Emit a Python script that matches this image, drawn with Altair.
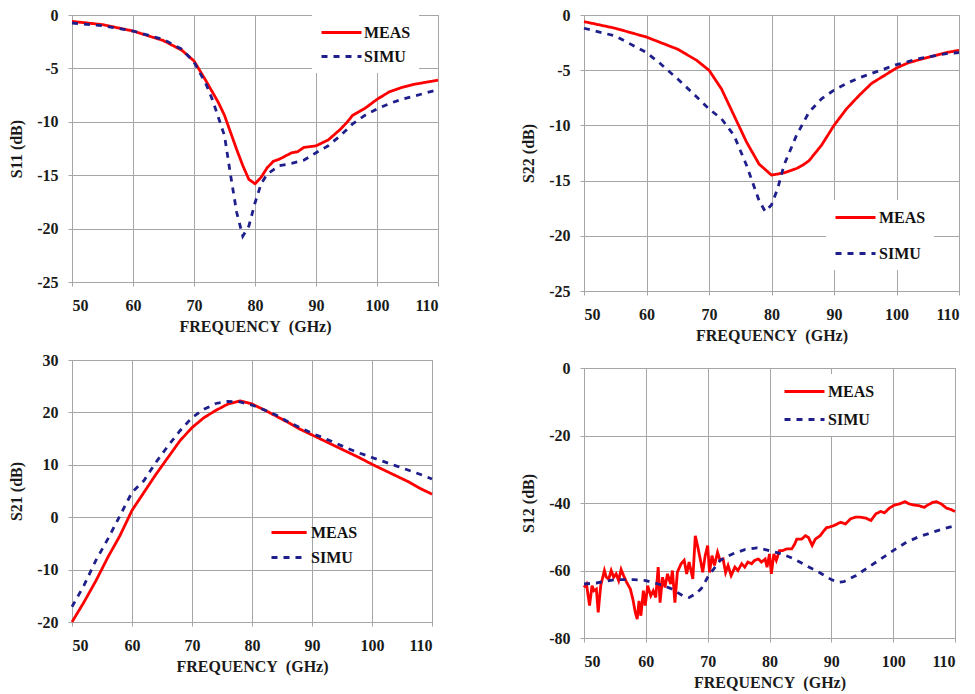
import altair as alt
import pandas as pd

FONT = "Times New Roman, Liberation Serif, serif"
RED = "#ff0000"
BLUE = "#1f1f8c"
GRID = "#a6a6a6"
X_TICKS = [50, 60, 70, 80, 90, 100, 110]
X_TITLE = "FREQUENCY\u00a0 (GHz)"

# ---- S11 ----
s11_meas_f = [50, 55, 60, 65, 68, 70, 72, 74, 75, 76, 77, 78, 79, 80, 81, 82, 83, 84, 85, 86, 87, 88,
              90, 92, 94, 95, 96, 98, 100, 102, 104, 106, 108, 110]
s11_meas_v = [-0.6, -0.9, -1.5, -2.4, -3.3, -4.3, -6.2, -8.2, -9.4, -11.0, -12.6, -14.1, -15.4, -15.8,
              -15.2, -14.3, -13.7, -13.5, -13.2, -12.9, -12.8, -12.4, -12.25, -11.7, -10.7, -10.1, -9.4,
              -8.75, -7.9, -7.2, -6.8, -6.5, -6.3, -6.1]
s11_simu_f = [50, 55, 60, 65, 68, 70, 72, 73, 74, 75, 76, 77, 78, 79, 80, 81, 82, 84, 86, 88, 90, 92,
              94, 96, 98, 100, 102, 104, 106, 108, 110]
s11_simu_v = [-0.75, -1.0, -1.5, -2.3, -3.2, -4.4, -6.5, -7.9, -9.6, -11.3, -15.0, -18.5, -20.7, -19.75,
              -17.6, -15.8, -14.9, -14.1, -13.9, -13.6, -12.9, -12.25, -11.3, -10.2, -9.4, -8.8, -8.3,
              -7.9, -7.6, -7.3, -7.0]

# ---- S22 ----
s22_meas_f = [50, 55, 60, 65, 68, 70, 72, 74, 76, 78, 80, 82, 84, 85, 86, 88, 90, 92, 94, 96, 98, 100,
              102, 104, 106, 108, 110]
s22_meas_v = [-0.6, -1.2, -2.0, -3.1, -4.1, -5.0, -6.7, -9.1, -11.5, -13.5, -14.5, -14.3, -13.9, -13.6,
              -13.2, -11.8, -10.0, -8.5, -7.3, -6.2, -5.5, -4.8, -4.3, -4.0, -3.7, -3.4, -3.2]
s22_simu_f = [50, 55, 58, 60, 62, 65, 68, 70, 72, 74, 76, 78, 79, 80, 81, 82, 84, 86, 88, 90, 92, 94,
              96, 98, 100, 102, 104, 106, 108, 110]
s22_simu_v = [-1.2, -1.9, -2.8, -3.4, -4.3, -5.8, -7.4, -8.5, -9.4, -10.9, -13.6, -16.8, -17.8, -17.2,
              -15.7, -13.6, -10.9, -8.8, -7.6, -6.8, -6.2, -5.7, -5.3, -4.9, -4.5, -4.2, -3.9, -3.7,
              -3.5, -3.4]

# ---- S21 ----
s21_f = [50, 52, 54, 56, 58, 60, 62, 64, 66, 68, 70, 72, 74, 76, 78, 80, 82, 84, 86, 88, 90, 92, 94,
         96, 98, 100, 102, 104, 106, 108, 110]
s21_meas_v = [-20.0, -16.2, -12.1, -7.6, -3.5, 1.3, 4.75, 8.2, 11.4, 14.6, 17.1, 19.0, 20.4, 21.6, 22.2,
              21.6, 20.5, 19.3, 18.1, 16.8, 15.7, 14.6, 13.5, 12.4, 11.3, 10.1, 9.0, 7.9, 6.8, 5.5, 4.4]
s21_simu_v = [-17.1, -13.0, -8.2, -4.1, 0.3, 4.75, 7.0, 10.5, 13.6, 16.5, 19.0, 20.6, 21.7, 22.1, 22.0,
              21.4, 20.5, 19.5, 18.2, 17.1, 16.0, 15.1, 14.1, 13.1, 12.2, 11.4, 10.6, 9.8, 9.0, 8.2, 7.3]

# ---- S12 ----
s12_meas_f = [50.0, 50.4, 50.9, 51.3, 51.6, 52.0, 52.3, 52.7, 53.3, 53.6, 54.0, 54.4, 54.8, 55.2, 55.6,
              56.0, 56.4, 56.9, 57.5, 57.9, 58.3, 58.6, 58.9, 59.2, 59.6, 59.9, 60.3, 60.8, 61.2, 61.6,
              62.0, 62.3, 62.7, 63.1, 63.5, 64.0, 64.3, 64.7, 65.1, 65.7, 66.2, 66.6, 67.0, 67.6, 68.0,
              68.4, 68.8, 69.2, 69.6, 70.0, 70.3, 70.7, 71.1, 71.6, 72.0, 72.5, 72.9, 73.3, 73.8, 74.4,
              74.9, 75.5, 76.0, 76.5, 77.1, 77.6, 78.2, 78.7, 79.3, 79.6, 80.0, 80.3, 80.7, 81.1, 81.6,
              82.1, 82.8, 83.6, 84.1, 84.4, 85.2, 85.8, 86.3, 86.9, 87.4, 88.2, 88.8, 89.3, 89.6, 90.4,
              91.5, 92.3, 93.1, 93.9, 94.7, 95.6, 96.4, 97.2, 98.0, 98.6, 99.4, 100.2, 101.0, 101.9,
              102.6, 103.4, 104.2, 105.0, 105.6, 106.4, 107.0, 107.8, 108.6, 109.3, 110.0]
s12_meas_v = [-65, -64, -70.4, -64.5, -66, -65.5, -72.4, -64.5, -60, -62, -62.5, -60, -62, -61, -63,
              -59.7, -61.5, -63.5, -65.5, -68.5, -72.4, -74.4, -69, -73.4, -66, -70.4, -64.5, -67.5,
              -66, -68, -59, -69.5, -62, -65, -61, -64, -60, -69.5, -60.5, -58, -57, -61, -57.5, -62.5,
              -49.7, -53, -56.6, -60.5, -55.6, -52.6, -60.6, -55.6, -58.5, -54.6, -57, -56.6, -60.6,
              -58.5, -61.5, -59, -60, -58, -59, -57.5, -58, -57, -56.6, -57.5, -56.6, -59, -55.1, -61,
              -55.1, -57, -54.1, -54.1, -53.6, -53.6, -52.1, -50.7, -50.7, -49.7, -50.2, -52.6, -50.7,
              -49.7, -48.2, -47.2, -47.2, -46.7, -45.7, -46.2, -44.7, -44.2, -44.2, -44.5, -45.2, -43.2,
              -42.5, -42.9, -41.5, -40.6, -40.3, -39.6, -40.3, -40.6, -40.8, -41.3, -40.6, -39.8, -39.6,
              -40.3, -41.5, -41.9, -42.5]
s12_simu_f = [50, 52, 55, 58, 60, 62, 64, 66, 67, 68, 69, 70, 71, 72, 74, 76, 78, 80, 82, 84, 86, 88,
              90, 91, 92, 94, 96, 98, 100, 102, 104, 106, 108, 110]
s12_simu_v = [-64, -63.7, -62.7, -62.7, -63, -64, -65.3, -67.5, -68, -67, -65.3, -62, -59.5, -57, -55.1,
              -53.8, -53.3, -54.1, -55.1, -56.6, -58.6, -60.5, -62.7, -63.5, -63.3, -61.5, -59, -56.6,
              -54.1, -51.8, -50.1, -48.9, -47.7, -46.7]


def make_df(mf, mv, sf, sv):
    return pd.DataFrame({
        "f": list(mf) + list(sf),
        "v": list(mv) + list(sv),
        "series": ["MEAS"] * len(mf) + ["SIMU"] * len(sf),
    })


def panel(df, ytitle, ydom, yticks, w, h, lx, ly, rowpad, sympath, laboff, fill):
    leg_kw = dict(
        title=None, orient="none", legendX=lx, legendY=ly,
        symbolType=sympath, symbolSize=256, symbolStrokeWidth=3,
        labelFont=FONT, labelFontWeight="bold", labelFontSize=16, labelColor="#111111",
        rowPadding=rowpad, padding=8, labelOffset=laboff,
    )
    if fill:
        leg_kw["fillColor"] = "white"
    legend = alt.Legend(**leg_kw)
    axis_kw = dict(labelFont=FONT, titleFont=FONT, labelFontWeight="bold", titleFontWeight="bold",
                   labelFontSize=16, titleFontSize=16)
    return alt.Chart(df).mark_line(strokeWidth=2.8).encode(
        x=alt.X("f:Q", scale=alt.Scale(domain=[50, 110], nice=False, zero=False),
                axis=alt.Axis(values=X_TICKS, title=X_TITLE, **axis_kw)),
        y=alt.Y("v:Q", scale=alt.Scale(domain=ydom, nice=False, zero=False),
                axis=alt.Axis(values=yticks, title=ytitle, labelExpr="'' + datum.value", **axis_kw)),
        color=alt.Color("series:N", scale=alt.Scale(domain=["MEAS", "SIMU"], range=[RED, BLUE]),
                        legend=legend),
        strokeDash=alt.StrokeDash("series:N",
                                  scale=alt.Scale(domain=["MEAS", "SIMU"], range=[[1, 0], [6, 6]]),
                                  legend=legend),
        order="f:Q",
    ).properties(width=w, height=h)


LINE40 = "M-1,0H4"
LINE35 = "M-1,0H3.4"

p1 = panel(make_df(s11_meas_f, s11_meas_v, s11_simu_f, s11_simu_v), "S11 (dB)",
           [-25, 0], [0, -5, -10, -15, -20, -25], 366, 267, 240, 0, 6, LINE40, 25, True)
p2 = panel(make_df(s22_meas_f, s22_meas_v, s22_simu_f, s22_simu_v), "S22 (dB)",
           [-25, 0], [0, -5, -10, -15, -20, -25], 375, 276, 242, 185, 18, LINE40, 26, True)
p3 = panel(make_df(s21_f, s21_meas_v, s21_f, s21_simu_v), "S21 (dB)",
           [-20, 30], [30, 20, 10, 0, -10, -20], 360, 262, 190, 155, 7, LINE35, 22, False)
p4 = panel(make_df(s12_meas_f, s12_meas_v, s12_simu_f, s12_simu_v), "S12 (dB)",
           [-80, 0], [0, -20, -40, -60, -80], 371, 270, 191, 6, 10, LINE40, 26, True)

ind = dict(color="independent", strokeDash="independent")
left = alt.vconcat(p1, p3, spacing=16).resolve_scale(**ind).resolve_legend(**ind)
right = alt.vconcat(p2, p4, spacing=15).resolve_scale(**ind).resolve_legend(**ind)

chart = alt.hconcat(left, right, spacing=75).resolve_scale(**ind).resolve_legend(**ind).properties(
    padding={"left": 0, "top": -2, "right": 0, "bottom": 0}
).configure(
    font=FONT
).configure_view(
    stroke=GRID, strokeWidth=1
).configure_axis(
    domain=False, grid=True, gridColor=GRID, gridWidth=1,
    tickColor=GRID, tickSize=4,
    labelFont=FONT, labelFontSize=16, labelFontWeight="bold", labelColor="#1a1a1a",
    titleFont=FONT, titleFontSize=16, titleFontWeight="bold", titleColor="#1a1a1a",
).configure_axisX(
    labelPadding=11, titlePadding=5
).configure_axisY(
    labelPadding=10, titlePadding=12
)

chart.save("out.html", embed_options={"renderer": "svg", "actions": False})
